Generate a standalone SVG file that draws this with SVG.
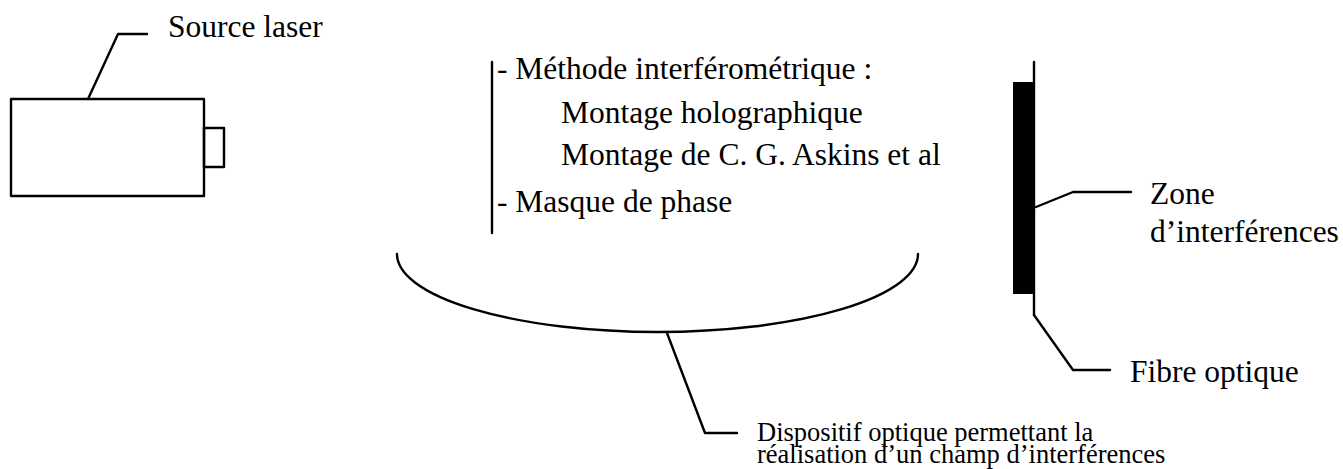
<svg xmlns="http://www.w3.org/2000/svg" width="1343" height="469" viewBox="0 0 1343 469">
<style>
  .ln{fill:none;stroke:#000;stroke-width:2.4;stroke-linejoin:round;stroke-linecap:round}
  .t{font-family:"Liberation Serif","Times New Roman",serif;font-size:31.5px;fill:#000}
  .s{font-family:"Liberation Serif","Times New Roman",serif;font-size:26.5px;fill:#000}
</style>
<rect width="1343" height="469" fill="#fff"/>
<g id="laser">
  <rect class="ln" x="11" y="99" width="193" height="97"/>
  <rect class="ln" x="204" y="128" width="20" height="39"/>
  <text class="t" x="168" y="37">Source laser</text>
</g>
<g id="methodes">
  <line class="ln" x1="492" y1="62" x2="492" y2="233"/>
  <text class="t" x="497" y="79">- Méthode interférométrique :</text>
  <text class="t" x="561" y="123">Montage holographique</text>
  <text class="t" x="561" y="165">Montage de C. G. Askins et al</text>
  <text class="t" x="497" y="212">- Masque de phase</text>
</g>
<g id="dispositif">
  <path class="ln" d="M397,254 A260.5,78 0 0 0 918,254" stroke-width="2.8"/>
  <text class="s" x="757" y="441">Dispositif optique permettant la</text>
  <text class="s" x="757" y="463">réalisation d’un champ d’interférences</text>
</g>
<g id="fibre">
  <rect x="1013" y="82" width="22" height="212" fill="#000"/>
  <line class="ln" x1="1034" y1="62" x2="1034" y2="315"/>
  <text class="t" x="1130" y="382">Fibre optique</text>
</g>
<g id="zone">
  <text class="t" x="1150" y="204">Zone</text>
  <text class="t" x="1150" y="242">d’interférences</text>
</g>
<g id="connectors">
  <polyline class="ln" points="88,99 118,34 147,34"/>
  <polyline class="ln" points="1036,207 1073,192 1131,192"/>
  <polyline class="ln" points="1034,315 1073,370 1110,370"/>
  <polyline class="ln" points="667,333 705,433 737,433"/>
</g>
</svg>
